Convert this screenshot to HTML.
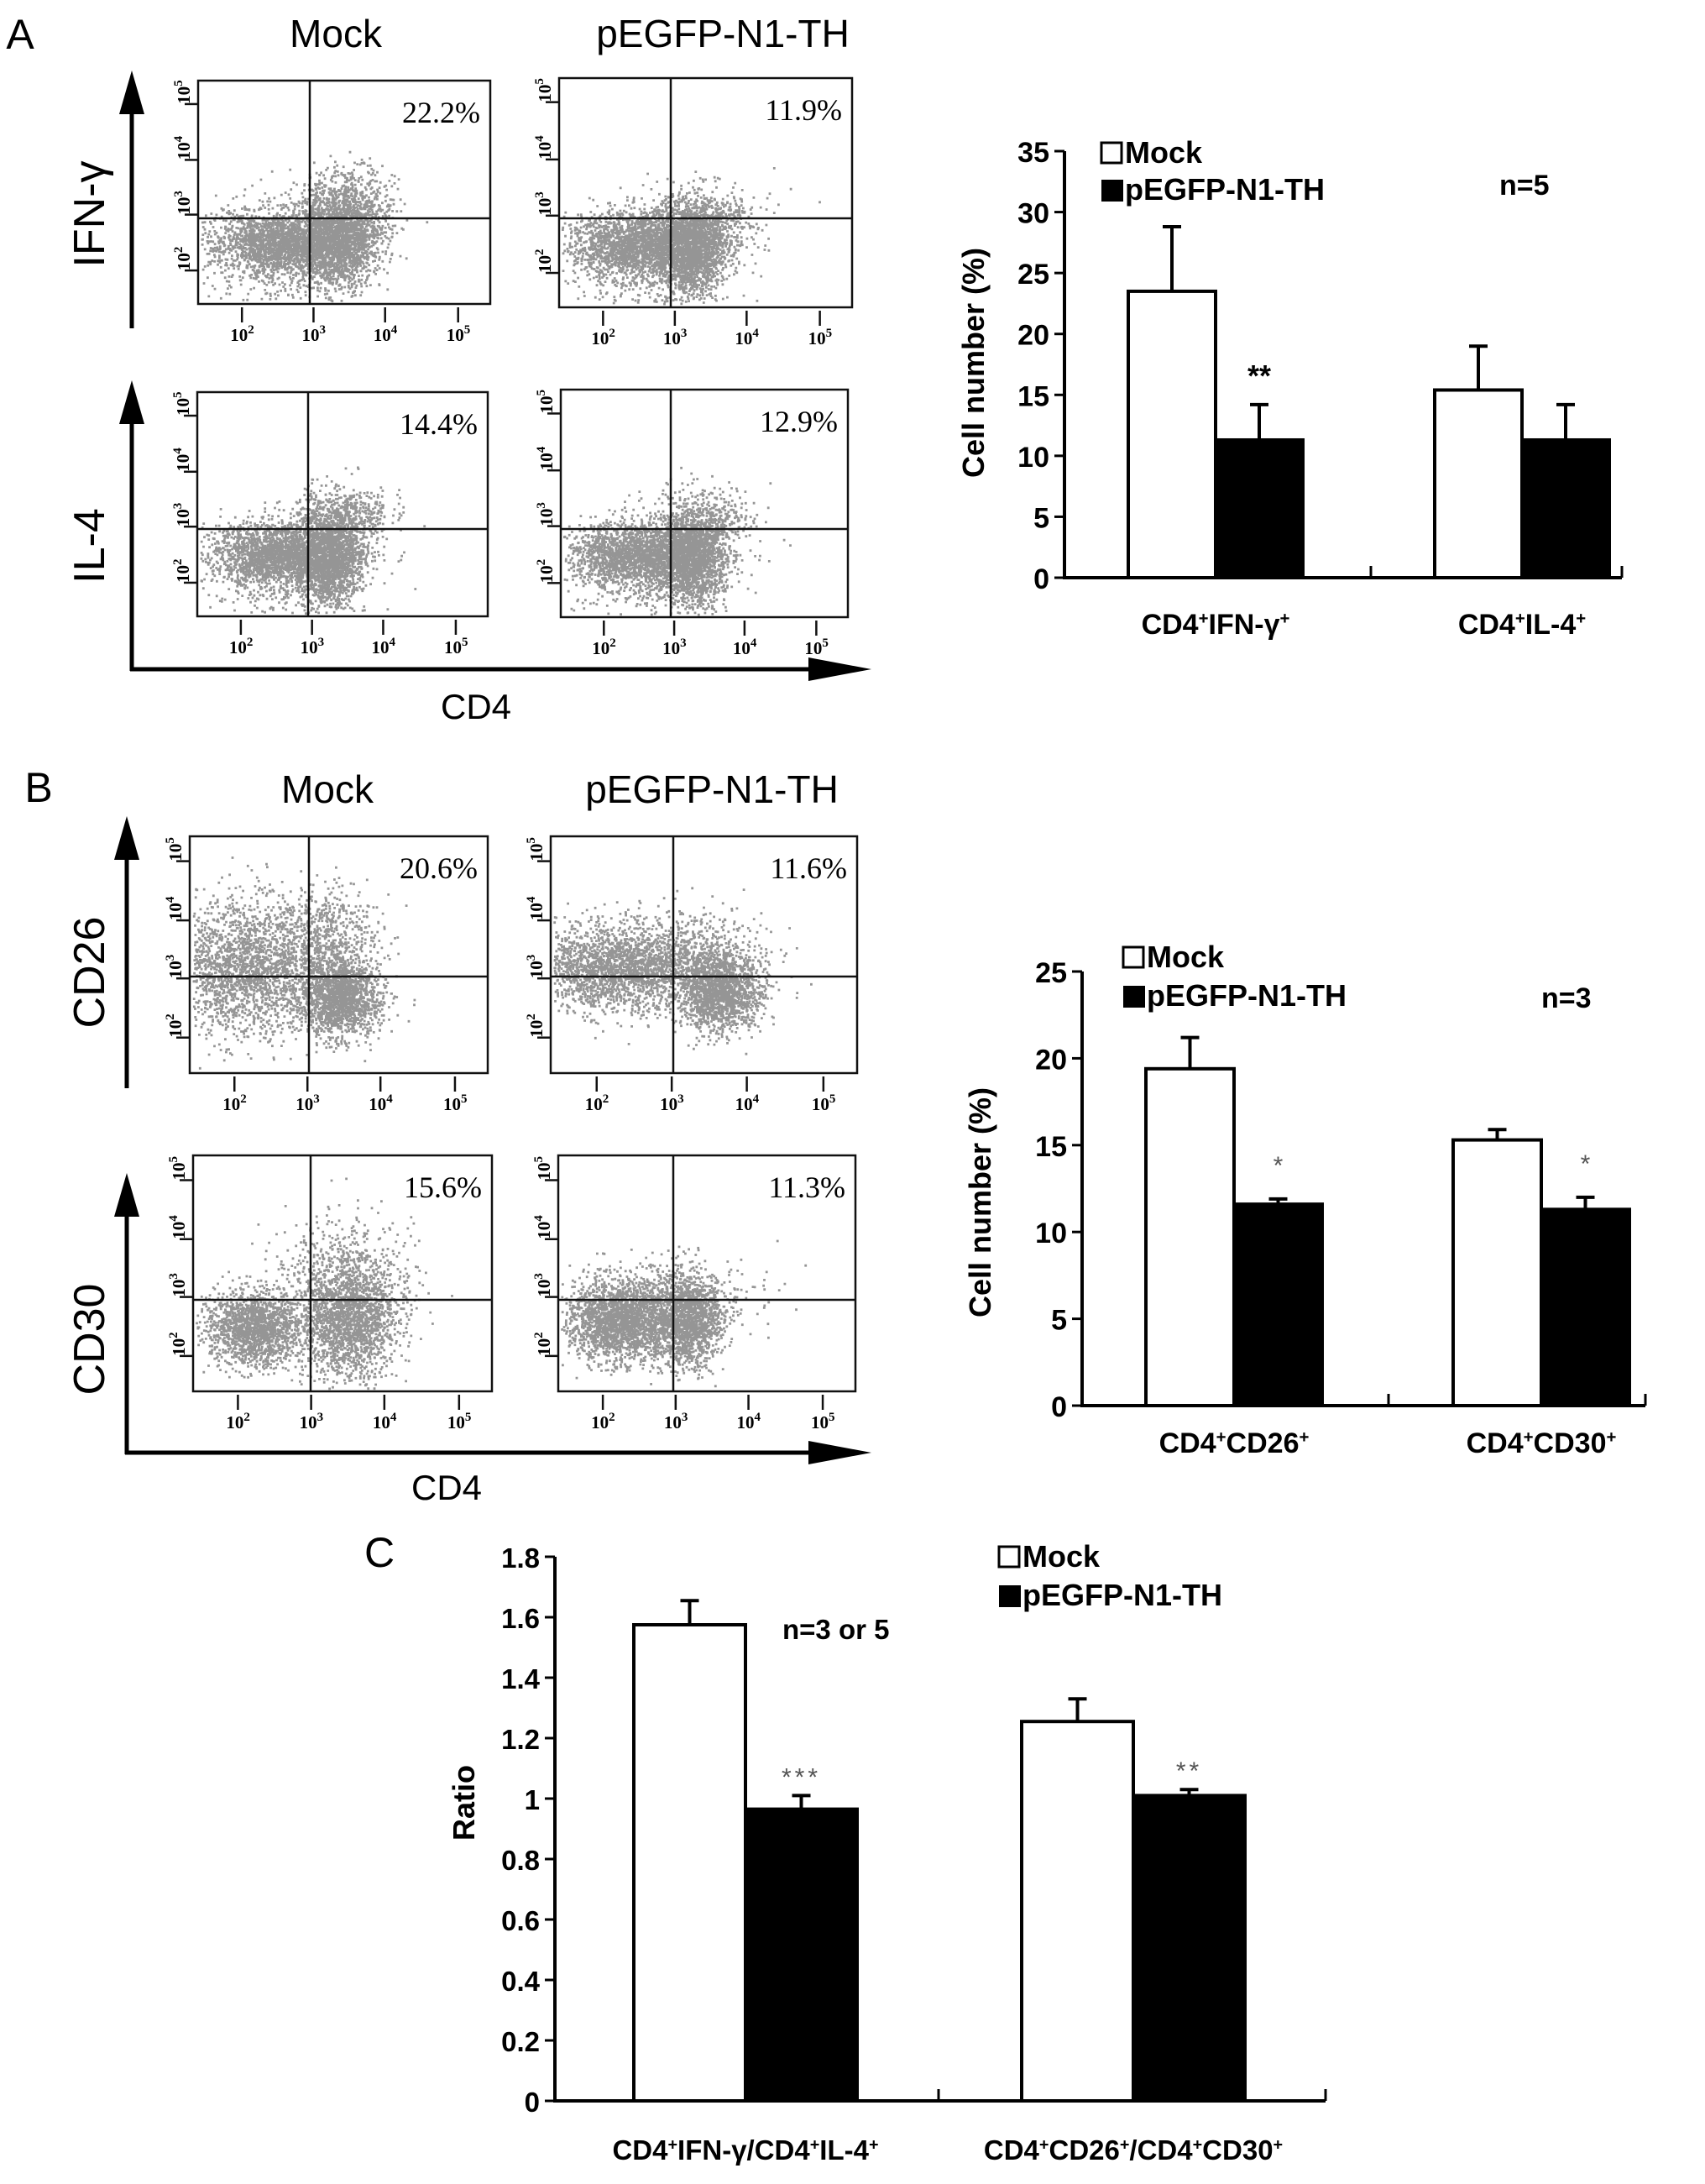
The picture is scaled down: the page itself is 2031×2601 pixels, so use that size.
<!DOCTYPE html>
<html><head><meta charset="utf-8"><style>
html,body{margin:0;padding:0;background:#fff;}
svg{display:block;}
.b{font-family:"Liberation Sans",sans-serif;font-weight:bold;}
.r{font-family:"Liberation Sans",sans-serif;}
.s{font-family:"Liberation Serif",serif;}
</style></head><body>
<svg id="fig" width="2031" height="2601" viewBox="0 0 2031 2601" xmlns="http://www.w3.org/2000/svg">
<g id="flow"></g>
<g id="bars"></g>
</svg>
<script>
// ---------- Bar chart data ----------
const catsA = ["CD4+IFN-γ+", "CD4+IL-4+"];
const mockA = [23.5, 15.4];
const mockErrA = [28.8, 19.0];
const thA = [11.3, 11.3];
const thErrA = [14.2, 14.2];
const ticksA = [0, 5, 10, 15, 20, 25, 30, 35];

const catsB = ["CD4+CD26+", "CD4+CD30+"];
const mockB = [19.4, 15.3];
const mockErrB = [21.2, 15.9];
const thB = [11.6, 11.3];
const thErrB = [11.9, 12.0];
const ticksB = [0, 5, 10, 15, 20, 25];

const catsC = ["CD4+IFN-γ/CD4+IL-4+", "CD4+CD26+/CD4+CD30+"];
const mockC = [1.575, 1.255];
const mockErrC = [1.655, 1.33];
const thC = [0.965, 1.01];
const thErrC = [1.01, 1.03];
const ticksC = [0, 0.2, 0.4, 0.6, 0.8, 1, 1.2, 1.4, 1.6, 1.8];

const percentA = ["22.2%", "11.9%", "14.4%", "12.9%"];
const percentB = ["20.6%", "11.6%", "15.6%", "11.3%"];

const NS = "http://www.w3.org/2000/svg";
function mk(parent, tag, attrs, text) {
  const e = document.createElementNS(NS, tag);
  for (const k in attrs) e.setAttribute(k, attrs[k]);
  if (text !== undefined) e.textContent = text;
  parent.appendChild(e);
  return e;
}
function catText(parent, x, y, label, size) {
  const t = mk(parent, "text", {x: x, y: y, "text-anchor": "middle", class: "b", "font-size": size});
  
  
  const parts = label.split("+");
  let raised = false;
  parts.forEach((p, i) => {
    if (p) {
      const a = {"font-size": size};
      if (raised) { a.dy = size * 0.35; raised = false; }
      mk(t, "tspan", a, p);
    }
    if (i < parts.length - 1) {
      const a = {"font-size": size * 0.6};
      if (!raised) { a.dy = -size * 0.35; raised = true; }
      mk(t, "tspan", a, "+");
    }
  });
  return t;
}

function barChart(cfg, cats, mock, mockErr, th, thErr, ticks) {
  const g = mk(document.getElementById("bars"), "g", {});
  
  
  const ymax = ticks[ticks.length - 1];
  const Y = v => cfg.y0 - (v / ymax) * (cfg.y0 - cfg.ytop);
  const X = (ci, s) => cfg.x0 + cfg.groupStart + ci * cfg.groupStep + s * cfg.barW;
  const ya = mk(g, "line", {x1: cfg.x0, y1: cfg.y0 + 2, x2: cfg.x0, y2: cfg.ytop, stroke: "#000", "stroke-width": 4});
   
  const xa = mk(g, "line", {x1: cfg.x0 - 2, y1: cfg.y0, x2: cfg.xend, y2: cfg.y0, stroke: "#000", "stroke-width": 4});
   
  mk(g, "line", {x1: cfg.xmid, y1: cfg.y0, x2: cfg.xmid, y2: cfg.y0 - 14, stroke: "#000", "stroke-width": 3});
  mk(g, "line", {x1: cfg.xend, y1: cfg.y0, x2: cfg.xend, y2: cfg.y0 - 14, stroke: "#000", "stroke-width": 3});
  ticks.forEach(t => {
    mk(g, "line", {x1: cfg.x0 - 12, y1: Y(t), x2: cfg.x0, y2: Y(t), stroke: "#000", "stroke-width": 3});
    const tl = mk(g, "text", {x: cfg.x0 - 18, y: Y(t) + 13, "text-anchor": "end", class: "b", "font-size": cfg.fs}, String(t));
     
  });
  cats.forEach((c, i) => {
    const series = [[mock[i], mockErr[i], "#fff"], [th[i], thErr[i], "#000"]];
    series.forEach((s, si) => {
      const x = X(i, si);
      const r = mk(g, "rect", {x: x, y: Y(s[0]), width: cfg.barW, height: cfg.y0 - Y(s[0]), fill: s[2], stroke: "#000", "stroke-width": 4});
      
      
      const cx = x + cfg.barW / 2;
      const e = mk(g, "path", {d: `M${cx},${Y(s[0])} V${Y(s[1])} M${cx - 11},${Y(s[1])} H${cx + 11}`, stroke: "#000", "stroke-width": 4, fill: "none"});
       
    });
    catText(g, X(i, 1), cfg.catY, c, cfg.fs);
    const st = cfg.stars[i];
    if (st) {
      const sx = X(i, 1) + cfg.barW / 2;
      const stt = mk(g, "text", {x: sx, y: Y(thErr[i]) - cfg.starGap, "text-anchor": "middle", class: st.bold ? "b" : "r", "font-size": st.size, fill: st.bold ? "#000" : "#555", "letter-spacing": st.ls || 0}, st.t);
       
    }
  });
  const tt = mk(g, "text", {x: cfg.titleX, y: cfg.titleY, "text-anchor": "middle", class: "b", "font-size": cfg.tfs, transform: `rotate(-90 ${cfg.titleX} ${cfg.titleY})`}, cfg.title);
   
  const lg = mk(g, "g", {});
   
  const l1 = mk(lg, "rect", {x: cfg.legX, y: cfg.legY1 - 24, width: 24, height: 24, fill: "#fff", stroke: "#000", "stroke-width": 3});
   
  const lt1 = mk(lg, "text", {x: cfg.legX + 28, y: cfg.legY1, class: "b", "font-size": cfg.lfs}, "Mock");
   
  const l2 = mk(lg, "rect", {x: cfg.legX, y: cfg.legY2 - 24, width: 26, height: 26, fill: "#000"});
   
  const lt2 = mk(lg, "text", {x: cfg.legX + 28, y: cfg.legY2, class: "b", "font-size": cfg.lfs}, "pEGFP-N1-TH");
   
  const nt = mk(g, "text", {x: cfg.nX, y: cfg.nY, class: "b", "font-size": cfg.fs}, cfg.n);
   
}

barChart({name: "chart-a", x0: 1268, y0: 688, ytop: 180, xend: 1932, xmid: 1633, groupStart: 76, groupStep: 365, barW: 104,
  fs: 34, tfs: 36, catY: 755, title: "Cell number (%)", titleX: 1172, titleY: 432,
  legX: 1312, legY1: 194, legY2: 238, lfs: 36, n: "n=5", nX: 1786, nY: 232, starGap: 22,
  stars: [{t: "**", size: 36, bold: true}, null]}, catsA, mockA, mockErrA, thA, thErrA, ticksA);

barChart({name: "chart-b", x0: 1289, y0: 1674, ytop: 1157, xend: 1960, xmid: 1654, groupStart: 76, groupStep: 366, barW: 105,
  fs: 34, tfs: 36, catY: 1730, title: "Cell number (%)", titleX: 1180, titleY: 1432,
  legX: 1338, legY1: 1152, legY2: 1198, lfs: 36, n: "n=3", nX: 1836, nY: 1200, starGap: 30,
  stars: [{t: "*", size: 30, bold: false}, {t: "*", size: 30, bold: false}]}, catsB, mockB, mockErrB, thB, thErrB, ticksB);

barChart({name: "chart-c", x0: 661, y0: 2502, ytop: 1854, xend: 1579, xmid: 1118, groupStart: 94, groupStep: 462, barW: 133,
  fs: 33, tfs: 36, catY: 2572, title: "Ratio", titleX: 565, titleY: 2147,
  legX: 1190, legY1: 1866, legY2: 1912, lfs: 36, n: "n=3 or 5", nX: 932, nY: 1952, starGap: 12,
  stars: [{t: "***", size: 30, bold: false, ls: 4}, {t: "**", size: 30, bold: false, ls: 4}]}, catsC, mockC, mockErrC, thC, thErrC, ticksC);

// ---------- Flow cytometry panels ----------
let seed = 12345;
function rnd() { seed = (seed * 1103515245 + 12345) % 2147483648; return seed / 2147483648; }
function gauss() { const u = rnd() || 1e-6, v = rnd(); return Math.sqrt(-2 * Math.log(u)) * Math.cos(2 * Math.PI * v); }

const flowG = document.getElementById("flow");
function flowPlot(box, vx, hy, pct, clusters, name) {
  const g = mk(flowG, "g", {});
  
  
  const [x1, y1, x2, y2] = box;
  const w = x2 - x1, h = y2 - y1;
  let d = "";
  clusters.forEach(c => {
    const n = Math.round(c[4] * 1.8);
    for (let i = 0; i < n; i++) {
      const px = x1 + (c[0] + gauss() * c[2]) * w, py = y1 + (c[1] + gauss() * c[3]) * h;
      if (px > x1 + 3 && px < x2 - 4 && py > y1 + 3 && py < y2 - 4) d += `M${px.toFixed(1)},${py.toFixed(1)}h2.8v2.8h-2.8z`;
    }
  });
  const dots = mk(g, "path", {d: d, fill: "#7a7a7a", "fill-opacity": 0.8});
   
  const fr = mk(g, "rect", {x: x1, y: y1, width: w, height: h, fill: "none", stroke: "#111", "stroke-width": 2.5});
   
  mk(g, "line", {x1: vx, y1: y1, x2: vx, y2: y2, stroke: "#111", "stroke-width": 2.5});
  mk(g, "line", {x1: x1, y1: hy, x2: x2, y2: hy, stroke: "#111", "stroke-width": 2.5});
  const pt = mk(g, "text", {x: x2 - 12, y: y1 + 50, "text-anchor": "end", class: "s", "font-size": 36}, pct);
   
  const xt = [0.15, 0.395, 0.64, 0.89], yt = [0.105, 0.355, 0.6, 0.85];
  const ex = ["2", "3", "4", "5"];
  xt.forEach((f, i) => {
    const xx = x1 + f * w;
    mk(g, "line", {x1: xx, y1: y2 + 4, x2: xx, y2: y2 + 22, stroke: "#111", "stroke-width": 2.5});
    const t = mk(g, "text", {x: xx - 14, y: y2 + 44, class: "s", "font-size": 21, "font-weight": "bold"}, "10");
    mk(t, "tspan", {dy: -9, "font-size": 15}, ex[i]);
     
  });
  yt.forEach((f, i) => {
    const yy = y1 + f * h;
    mk(g, "line", {x1: x1 - 16, y1: yy, x2: x1, y2: yy, stroke: "#111", "stroke-width": 2.5});
    const tx = x1 - 22;
    const t = mk(g, "text", {x: tx, y: yy + 12, class: "s", "font-size": 21, "font-weight": "bold", transform: `rotate(-90 ${tx} ${yy})`}, "10");
    mk(t, "tspan", {dy: -9, "font-size": 15}, ex[3 - i]);
     
  });
}
const cA1 = [[0.28, 0.72, 0.12, 0.07, 1100], [0.48, 0.72, 0.07, 0.1, 900], [0.5, 0.55, 0.08, 0.08, 350], [0.3, 0.8, 0.15, 0.12, 250]];
const cA2 = [[0.27, 0.72, 0.12, 0.07, 1100], [0.45, 0.75, 0.06, 0.1, 900], [0.5, 0.6, 0.09, 0.07, 250], [0.3, 0.8, 0.15, 0.12, 250]];
const cA3 = [[0.27, 0.72, 0.12, 0.07, 1100], [0.45, 0.75, 0.06, 0.1, 900], [0.5, 0.55, 0.08, 0.07, 300], [0.3, 0.8, 0.15, 0.12, 200]];
const cA4 = [[0.26, 0.72, 0.12, 0.07, 1100], [0.45, 0.75, 0.06, 0.1, 900], [0.5, 0.58, 0.08, 0.08, 250], [0.3, 0.8, 0.15, 0.12, 200]];
const cB1 = [[0.18, 0.55, 0.12, 0.14, 1100], [0.5, 0.68, 0.07, 0.08, 900], [0.45, 0.45, 0.09, 0.12, 400]];
const cB2 = [[0.2, 0.55, 0.14, 0.09, 1200], [0.55, 0.65, 0.07, 0.08, 900], [0.45, 0.5, 0.12, 0.1, 300]];
const cB3 = [[0.2, 0.73, 0.08, 0.08, 900], [0.52, 0.7, 0.08, 0.12, 1000], [0.5, 0.5, 0.12, 0.12, 300]];
const cB4 = [[0.2, 0.7, 0.09, 0.08, 1100], [0.43, 0.7, 0.06, 0.1, 800], [0.35, 0.6, 0.15, 0.08, 300]];

flowPlot([236, 96, 584, 362], 369, 260, percentA[0], cA1, "flow-a-mock-ifn");
flowPlot([666, 93, 1015, 366], 799, 260, percentA[1], cA2, "flow-a-th-ifn");
flowPlot([235, 467, 581, 734], 367, 630, percentA[2], cA3, "flow-a-mock-il4");
flowPlot([668, 464, 1010, 735], 799, 630, percentA[3], cA4, "flow-a-th-il4");
flowPlot([226, 996, 581, 1278], 368, 1163, percentB[0], cB1, "flow-b-mock-cd26");
flowPlot([656, 996, 1021, 1278], 802, 1163, percentB[1], cB2, "flow-b-th-cd26");
flowPlot([230, 1376, 586, 1657], 370, 1548, percentB[2], cB3, "flow-b-mock-cd30");
flowPlot([665, 1376, 1019, 1657], 802, 1548, percentB[3], cB4, "flow-b-th-cd30");

function arrowV(x, yt, yb) { const g = mk(flowG, "g", {});  
  mk(g, "line", {x1: x, y1: yt + 30, x2: x, y2: yb, stroke: "#000", "stroke-width": 5});
  mk(g, "polygon", {points: `${x},${yt} ${x - 15},${yt + 52} ${x + 15},${yt + 52}`, fill: "#000"}); }
function arrowH(x1, y, xt) { const g = mk(flowG, "g", {});  
  mk(g, "line", {x1: x1, y1: y, x2: xt - 30, y2: y, stroke: "#000", "stroke-width": 5});
  mk(g, "polygon", {points: `${xt},${y} ${xt - 75},${y - 14} ${xt - 75},${y + 14}`, fill: "#000"}); }
arrowV(157, 84, 391); arrowV(157, 453, 799); arrowH(155, 797, 1038);
arrowV(151, 972, 1296); arrowV(151, 1397, 1732); arrowH(149, 1730, 1038);

function label(x, y, txt, size, name, rot) {
  const t = mk(flowG, "text", {x: x, y: y, "text-anchor": "middle", class: "r", "font-size": size}, txt);
  if (rot) t.setAttribute("transform", `rotate(-90 ${x} ${y})`);
   
}
label(24, 58, "A", 50, "panel-label-a");
label(46, 955, "B", 50, "panel-label-b");
label(452, 1866, "C", 50, "panel-label-c");
label(400, 56, "Mock", 46, "column-title-mock");
label(861, 56, "pEGFP-N1-TH", 46, "column-title-pegfp");
label(390, 956, "Mock", 46, "column-title-mock");
label(848, 956, "pEGFP-N1-TH", 46, "column-title-pegfp");
label(124, 255, "IFN-γ", 52, "y-label-ifn", true);
label(124, 650, "IL-4", 52, "y-label-il4", true);
label(124, 1158, "CD26", 52, "y-label-cd26", true);
label(124, 1595, "CD30", 52, "y-label-cd30", true);
label(567, 856, "CD4", 42, "x-label-cd4");
label(532, 1786, "CD4", 42, "x-label-cd4");
</script>
</body></html>
